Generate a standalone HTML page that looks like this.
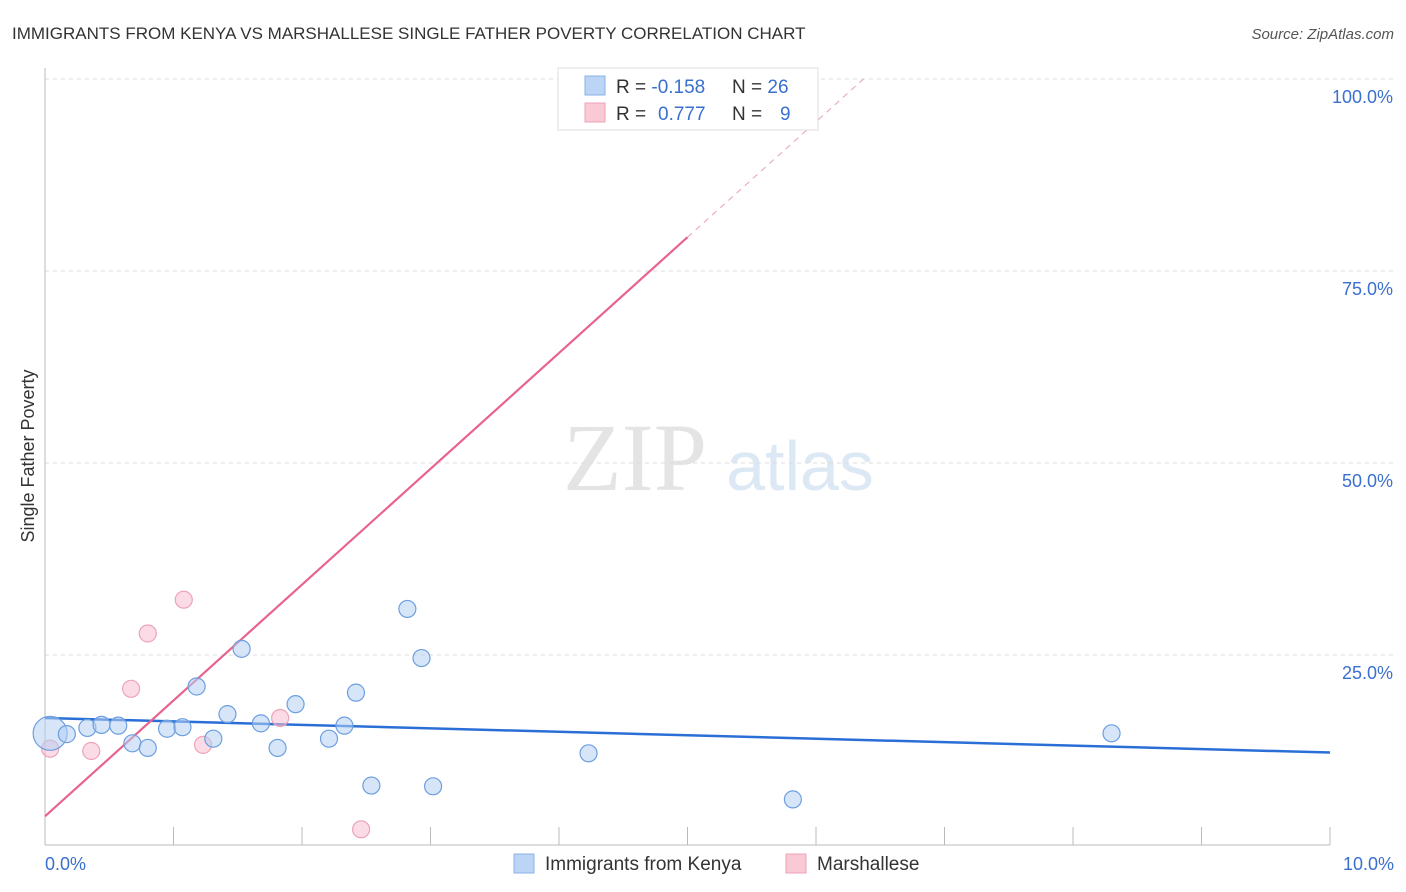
<!DOCTYPE html>
<html><head><meta charset="utf-8"><style>
body{margin:0;background:#fff;font-family:"Liberation Sans",sans-serif}
svg{display:block}
</style></head><body>
<svg width="1406" height="892" id="c">
<text x="12" y="39" font-size="17" fill="#333">IMMIGRANTS FROM KENYA VS MARSHALLESE SINGLE FATHER POVERTY CORRELATION CHART</text>
<text x="1394" y="39" font-size="15" fill="#555" text-anchor="end" font-style="italic">Source: ZipAtlas.com</text>
<text x="0" y="0" transform="translate(34,456) rotate(-90)" font-size="18" fill="#333" text-anchor="middle">Single Father Poverty</text>
<g><text x="635" y="490" font-size="96" fill="#e4e4e4" text-anchor="middle" font-family="Liberation Serif,serif">ZIP</text><text x="800" y="490" font-size="70" fill="#dde8f5" text-anchor="middle">atlas</text></g>
<g id="grid"></g><g id="axes"></g><g id="lines"></g><g id="pts"></g>
<g>
<rect x="558" y="68" width="260" height="62" fill="#fff" stroke="#ddd"/>
<rect x="585" y="76" width="20" height="19" fill="#bcd4f5" stroke="#8ab0e6"/>
<rect x="585" y="103" width="20" height="19" fill="#f9c9d6" stroke="#eea3b8"/>
<text x="616" y="93" font-size="19" fill="#333">R = <tspan fill="#3a6fd0">-0.158</tspan></text>
<text x="732" y="93" font-size="19" fill="#333">N = <tspan fill="#3a6fd0">26</tspan></text>
<text x="616" y="120" font-size="19" fill="#333">R = <tspan fill="#3a6fd0" x="658">0.777</tspan></text>
<text x="732" y="120" font-size="19" fill="#333">N = <tspan fill="#3a6fd0" x="780">9</tspan></text>
</g>
<g>
<rect x="514" y="854" width="20" height="19" fill="#bcd4f5" stroke="#8ab0e6"/>
<text x="545" y="870" font-size="19" fill="#333">Immigrants from Kenya</text>
<rect x="786" y="854" width="20" height="19" fill="#f9c9d6" stroke="#eea3b8"/>
<text x="817" y="870" font-size="19" fill="#333">Marshallese</text>
</g>
</svg>
<script>
const xTicks=[0,1,2,3,4,5,6,7,8,9,10];
const yTicks=[25,50,75,100];
const yTickLabels=["25.0%","50.0%","75.0%","100.0%"];
const xEndLabels=["0.0%","10.0%"];
const kenyaX=[0.04,0.17,0.33,0.44,0.57,0.68,0.80,0.95,1.07,1.18,1.31,1.42,1.53,1.68,1.81,1.95,2.21,2.33,2.42,2.54,2.82,2.93,3.02,4.23,5.82,8.30];
const kenyaY=[14.8,14.7,15.5,15.9,15.8,13.5,12.9,15.4,15.6,20.9,14.1,17.3,25.8,16.1,12.9,18.6,14.1,15.8,20.1,8.0,31.0,24.6,7.9,12.2,6.2,14.8];
const marshX=[0.04,0.36,0.67,0.80,1.08,1.23,1.83,2.46,4.95];
const marshY=[12.8,12.5,20.6,27.8,32.2,13.3,16.8,2.3,100.0];
const kenyaTrend=[16.8,12.3];
const marshTrend=[4.0,79.4,100];
const marshTrendX=[0,5.0,6.37];
const NS="http://www.w3.org/2000/svg";
const sx=v=>45+v*128.5, sy=v=>847-v*7.68;
function mk(p,t,a){const e=document.createElementNS(NS,t);for(const k in a)e.setAttribute(k,a[k]);document.getElementById(p).appendChild(e);return e;}
yTicks.forEach((v,i)=>{
 const l=mk('grid','line',{x1:45,x2:1395,y1:sy(v),y2:sy(v),stroke:'#ddd','stroke-dasharray':'4,4'});
 
 
 const t=mk('grid','text',{x:1393,y:sy(v)+24,'font-size':18,fill:'#3a6fd0','text-anchor':'end'});
 t.textContent=yTickLabels[i];
 
 
});
let a=mk('axes','line',{x1:45,x2:45,y1:68,y2:845,stroke:'#bbb'});


a=mk('axes','line',{x1:45,x2:1330,y1:845,y2:845,stroke:'#bbb'});


xTicks.forEach(v=>{const t=mk('axes','line',{x1:sx(v),x2:sx(v),y1:827,y2:845,stroke:'#bbb'});
 
 });
[[0,'start',45],[10,'end',1394]].forEach((d,i)=>{const t=mk('axes','text',{x:d[2],y:870,'font-size':18,fill:'#3a6fd0','text-anchor':d[1]});t.textContent=xEndLabels[i];
 
 });
let L=mk('lines','line',{x1:sx(0),y1:sy(kenyaTrend[0]),x2:sx(10),y2:sy(kenyaTrend[1]),stroke:'#2a6fd6','stroke-width':2.5});


L=mk('lines','line',{x1:sx(marshTrendX[0]),y1:sy(marshTrend[0]),x2:sx(marshTrendX[1]),y2:sy(marshTrend[1]),stroke:'#e8648e','stroke-width':2.2});


L=mk('lines','line',{x1:sx(marshTrendX[1]),y1:sy(marshTrend[1]),x2:sx(marshTrendX[2]),y2:sy(marshTrend[2]),stroke:'#e8a0b5','stroke-width':1,'stroke-dasharray':'6,5'});


marshX.forEach((x,i)=>{const c=mk('pts','circle',{cx:sx(x),cy:sy(marshY[i]),r:8.5,fill:'rgba(248,190,208,0.55)',stroke:'#eea3b8','stroke-width':1.2});
 
 });
kenyaX.forEach((x,i)=>{const c=mk('pts','circle',{cx:sx(x),cy:sy(kenyaY[i]),r:i==0?17:8.5,fill:'rgba(180,207,242,0.55)',stroke:'#6d9fe0','stroke-width':1.2});
 
 });
</script>
</body></html>
